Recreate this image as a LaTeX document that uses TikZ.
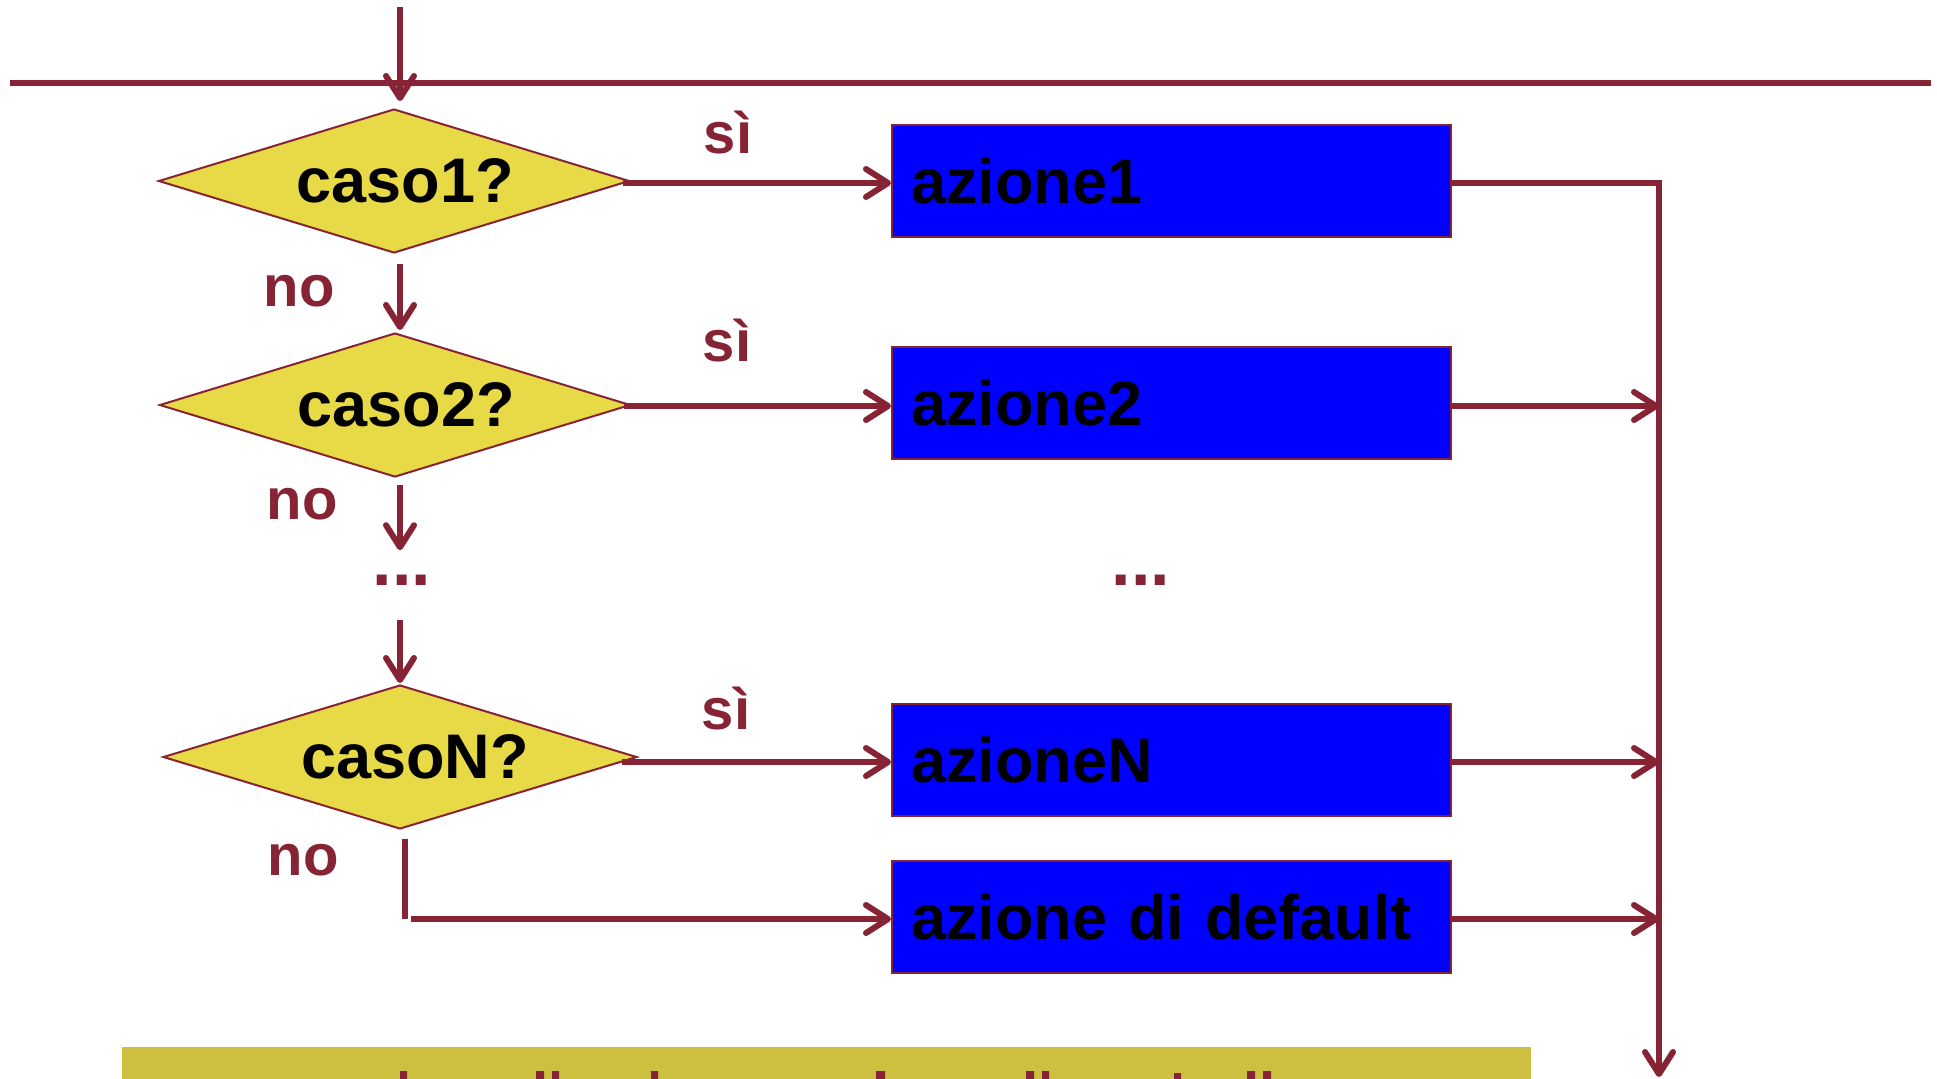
\documentclass[tikz,border=0pt]{standalone}
\usepackage{fontspec}
\setmainfont{Liberation Sans}
\usetikzlibrary{arrows.meta,shapes.geometric}
\definecolor{maroon}{RGB}{134,35,52}
\definecolor{dyellow}{RGB}{232,218,70}
\definecolor{bandcol}{RGB}{205,192,64}
\definecolor{boxblue}{RGB}{0,0,255}
\newcommand\boxfont{\fontsize{31.5pt}{36pt}\selectfont\bfseries}
\newcommand\labfont{\fontsize{29pt}{34pt}\selectfont\bfseries}
\newcommand\dotfont{\fontsize{35pt}{40pt}\selectfont\bfseries}
\begin{document}
\begin{tikzpicture}[x=0.5pt,y=-0.5pt,
  conn/.style={draw=maroon, line width=3pt},
  arr/.style={conn, -{Straight Barb[length=11pt,width=14pt,line cap=round,line join=round]}},
  decision/.style={diamond, draw=maroon, line width=1pt, fill=dyellow,
    minimum width=235.5pt, minimum height=72pt, inner sep=0pt, aspect=3.27},
  action/.style={rectangle, draw=maroon, line width=1pt, fill=boxblue,
    minimum height=56pt, text width=260.5pt, inner xsep=9.5pt, inner ysep=0pt,
    align=left, font=\boxfont, anchor=west},
  lab/.style={text=maroon, font=\labfont, inner sep=0pt, anchor=base},
  dots/.style={text=maroon, font=\dotfont, inner sep=0pt, anchor=base},
]
% canvas
\fill[white] (0,0) rectangle (1937,1078);
\useasboundingbox (0,0) rectangle (1937,1078);

% entry rail and incoming arrow
\coordinate (railL) at (10,83);
\coordinate (railR) at (1931,83);
\coordinate (start) at (400,7);
\draw[conn, line width=2.8pt] (railL) -- (railR);

% decisions
\node[decision, label={[font=\boxfont, xshift=5.5pt]center:caso1?}] (d1) at (394,181) {};
\node[decision, label={[font=\boxfont, xshift=5.5pt]center:caso2?}] (d2) at (395,405) {};
\node[decision, minimum width=237pt, label={[font=\boxfont, xshift=7.5pt]center:casoN?}] (dN) at (400,757) {};
\node[dots] (dotsL) at (402,585) {...};

% actions
\node[action] (b1) at (891,181) {azione1};
\node[action] (b2) at (891,402.5) {azione2};
\node[action] (bN) at (891,759.5) {azioneN};
\node[action] (bD) at (891,917) {azione di default};
\node[dots] (dotsR) at (1141,585) {...};

% labels
\node[lab] (si1) at (728,153) {sì};
\node[lab] (si2) at (727,361) {sì};
\node[lab] (siN) at (726,729) {sì};
\node[lab] (no1) at (299,306) {no};
\node[lab] (no2) at (302,519) {no};
\node[lab] (noN) at (303,875) {no};

% exit bus
\coordinate (busBot) at (1659,1077);
\coordinate (elbow) at (405,919);

% left column flow
\draw[arr, shorten >=3.5pt] (start) -- (start |- d1.north);
\draw[arr, shorten <=5pt, shorten >=1pt] (d1.south -| start) -- (d2.north -| start);
\draw[arr, shorten <=3.5pt, shorten >=12pt] (d2.south -| start) -- (dotsL.north -| start);
\draw[arr, shorten <=17.5pt, shorten >=0.5pt] (dotsL.south -| dN.north) -- (dN.north);

% yes branches
\draw[arr, shorten <=-4pt] ([yshift=-1pt]d1.east) -- ([yshift=-1pt]d1.east -| b1.west);
\draw[arr, shorten <=-4pt] ([yshift=-0.5pt]d2.east) -- ([yshift=-0.5pt]d2.east -| b2.west);
\draw[arr, shorten <=-8pt] ([yshift=-2.5pt]dN.east) -- ([yshift=-2.5pt]dN.east -| bN.west);

% default branch
\draw[conn, shorten <=4.5pt] (dN.south -| elbow) -- (elbow);
\draw[arr, shorten <=3pt] (elbow) -- (bD.west |- elbow);

% joins to the exit bus
\draw[arr] ([yshift=-1pt]b1.east) -| (busBot);
\draw[arr] ([yshift=-1.75pt]b2.east) -- ([yshift=-1.75pt]b2.east -| busBot);
\draw[arr] ([yshift=-1.25pt]bN.east) -- ([yshift=-1.25pt]bN.east -| busBot);
\draw[arr] ([yshift=-1pt]bD.east) -- ([yshift=-1pt]bD.east -| busBot);

% caption band along the lower edge
\fill[bandcol] (122,1047) rectangle (1531,1080);
\fill[maroon] (400,1071) rectangle (407,1080)
  (536,1071) rectangle (544,1080) (552,1071) rectangle (559,1080)
  (651,1071) rectangle (658,1080) (876,1071) rectangle (885,1080)
  (1026,1071) rectangle (1034,1080) (1042,1071) rectangle (1049,1080)
  (1174,1073) rectangle (1181,1080)
  (1247,1071) rectangle (1255,1080) (1263,1071) rectangle (1271,1080);
\end{tikzpicture}
\end{document}
